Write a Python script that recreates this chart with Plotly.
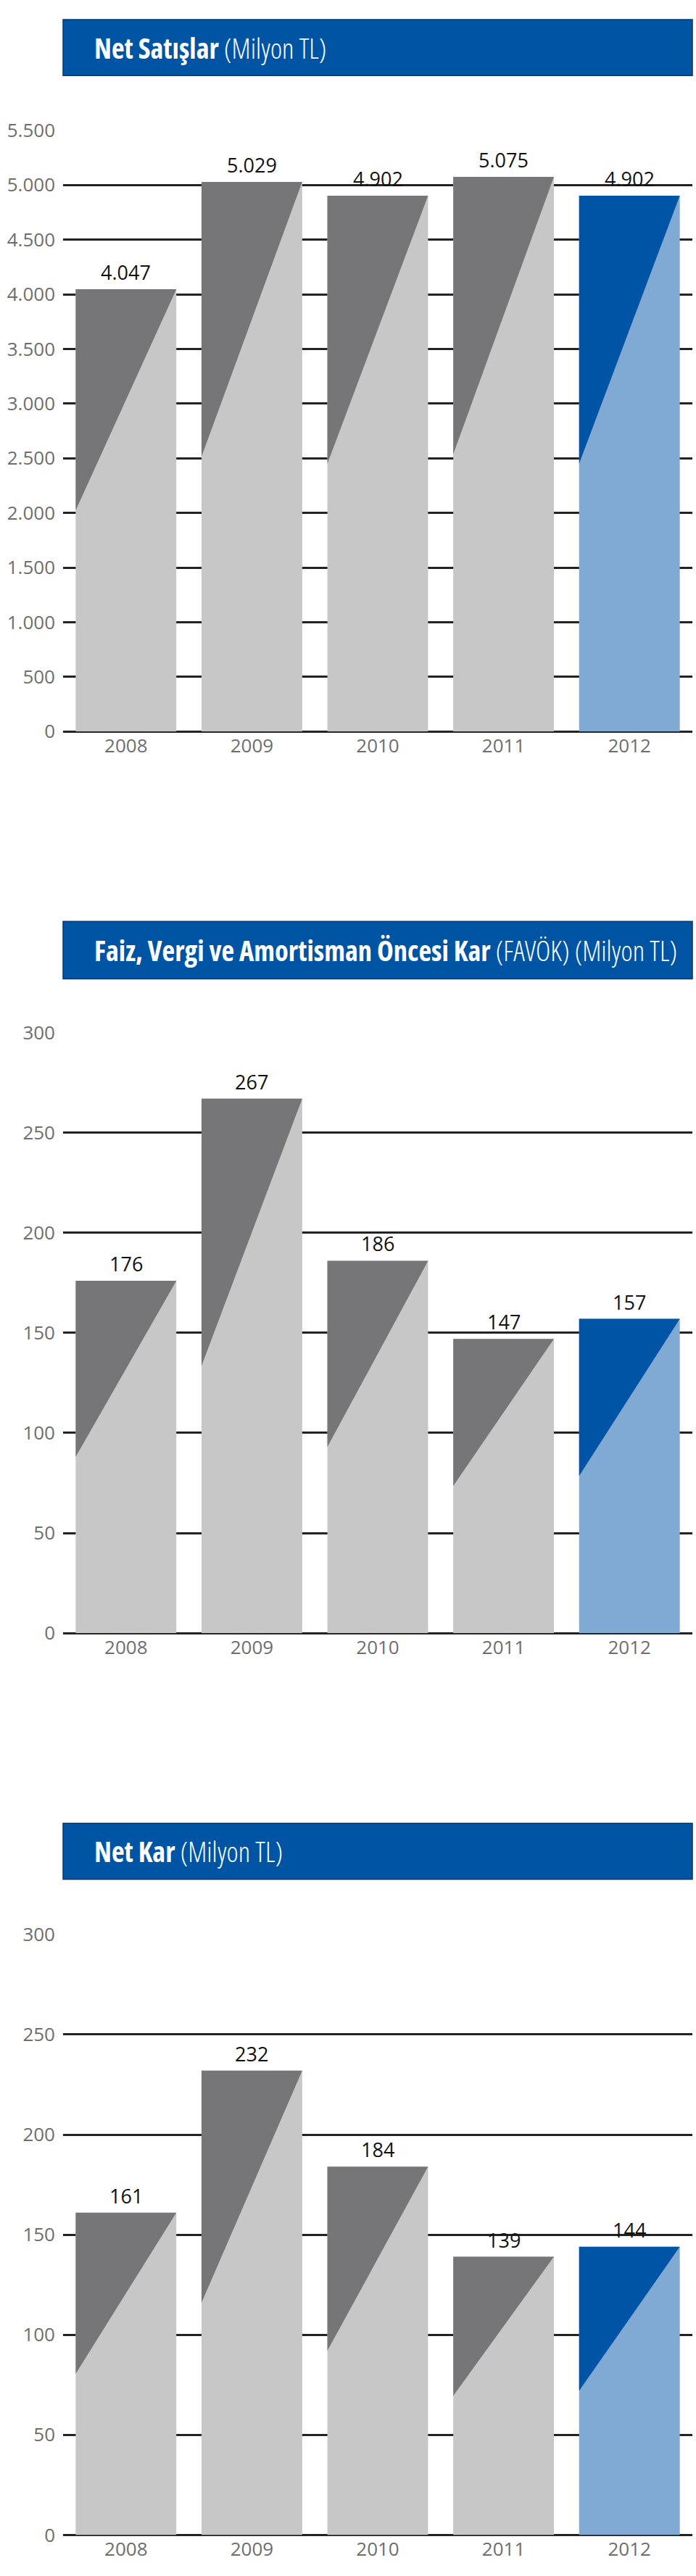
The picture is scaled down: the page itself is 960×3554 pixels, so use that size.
import plotly.graph_objects as go

# ---------------- data ----------------
years = ["2008", "2009", "2010", "2011", "2012"]
net_sales = [4047, 5029, 4902, 5075, 4902]
favok = [176, 267, 186, 147, 157]
net_profit = [161, 232, 184, 139, 144]

titles_bold = ["Net Satışlar", "Faiz, Vergi ve Amortisman Öncesi Kar", "Net Kar"]
titles_rest = ["(Milyon TL)", "(FAVÖK) (Milyon TL)", "(Milyon TL)"]
y_max = [5500, 300, 300]
y_step = [500, 50, 50]

# ---------------- style ----------------
W, H = 960, 3554
X0, X1 = 87, 955                      # plot area px (horizontal)
# (pixel of zero line, pixel of max gridline, banner top, banner bottom)
panels_px = [(1000.5, 162.5, 8, 86), (2257, 1420, 1265, 1345), (3514, 2677, 2522, 2600)]

LIGHT_GRAY = "#c8c7c8"
DARK_GRAY = "#767678"
DARK_BLUE = "#0054a5"
LIGHT_BLUE = "#80a9d3"
BANNER = "#0054a4"
GRID = "#222222"
TICK = "#6e6e6e"
FONT = "Open Sans"
BAR_W = 0.8


def py(p):
    return 1 - p / H


def fmt(v):
    return f"{v:,}".replace(",", ".")


fig = go.Figure()
series = [net_sales, favok, net_profit]
annotations = []
shapes = []
xs = list(range(len(years)))

for k, vals in enumerate(series):
    sfx = "" if k == 0 else str(k + 1)
    xa, ya = "x" + sfx, "y" + sfx
    base_colors = [LIGHT_GRAY] * (len(vals) - 1) + [LIGHT_BLUE]
    top_colors = [DARK_GRAY] * (len(vals) - 1) + [DARK_BLUE]

    fig.add_trace(go.Bar(
        x=xs, y=vals, width=BAR_W, marker=dict(color=base_colors, line=dict(width=0)),
        xaxis=xa, yaxis=ya, showlegend=False, hoverinfo="skip"))

    for i, v in enumerate(vals):
        fig.add_trace(go.Scatter(
            x=[i - BAR_W / 2, i + BAR_W / 2, i - BAR_W / 2, i - BAR_W / 2],
            y=[v, v, v / 2, v],
            mode="lines", fill="toself", fillcolor=top_colors[i],
            line=dict(width=0, color=top_colors[i]),
            xaxis=xa, yaxis=ya, showlegend=False, hoverinfo="skip"))
        annotations.append(dict(
            x=i, y=v, xref=xa, yref=ya, text=fmt(v), showarrow=False,
            yanchor="bottom", yshift=3,
            font=dict(family=FONT, size=27, color="#111111")))

    zero_px, max_px, b_top, b_bot = panels_px[k]
    layout_x = dict(
        domain=[X0 / W, X1 / W], range=[-0.5, len(years) - 0.5], anchor=ya,
        tickvals=xs, ticktext=years, showgrid=False, zeroline=False,
        showline=False, ticks="", ticklabelstandoff=2,
        tickfont=dict(family=FONT, size=26, color=TICK), fixedrange=True)
    layout_y = dict(
        domain=[py(zero_px), py(max_px)], range=[0, y_max[k]], anchor=xa,
        tickvals=list(range(0, y_max[k] + 1, y_step[k])), tickformat=",d",
        showgrid=True, gridcolor=GRID, gridwidth=2.5, zeroline=True,
        zerolinecolor=GRID, zerolinewidth=2.5, showline=False, ticks="",
        ticklabelstandoff=10,
        tickfont=dict(family=FONT, size=26, color=TICK), fixedrange=True)
    fig.update_layout(**{"xaxis" + sfx: layout_x, "yaxis" + sfx: layout_y})

    shapes.append(dict(type="rect", xref="paper", yref="paper",
                       x0=X0 / W, x1=X1 / W, y0=py(b_bot), y1=py(b_top),
                       fillcolor=BANNER, line=dict(color="#0b3766", width=1.5),
                       layer="below"))
    annotations.append(dict(
        xref="paper", yref="paper", x=128 / W, y=py((b_top + b_bot) / 2),
        xanchor="left", yanchor="middle", showarrow=False,
        text=(f'<span style="font-stretch:75%"><b>{titles_bold[k]}</b> '
              f'<span style="font-weight:300">{titles_rest[k]}</span></span>'),
        font=dict(family=FONT, size=38.5, color="white")))

fig.update_layout(
    width=W, height=H, margin=dict(l=0, r=0, t=0, b=0),
    paper_bgcolor="white", plot_bgcolor="white",
    separators=",.", annotations=annotations, shapes=shapes,
    showlegend=False)

fig.write_html("out.html", config={"displayModeBar": False},
               post_script="document.body.style.margin='0';"
                           "document.body.style.overflow='hidden';")
